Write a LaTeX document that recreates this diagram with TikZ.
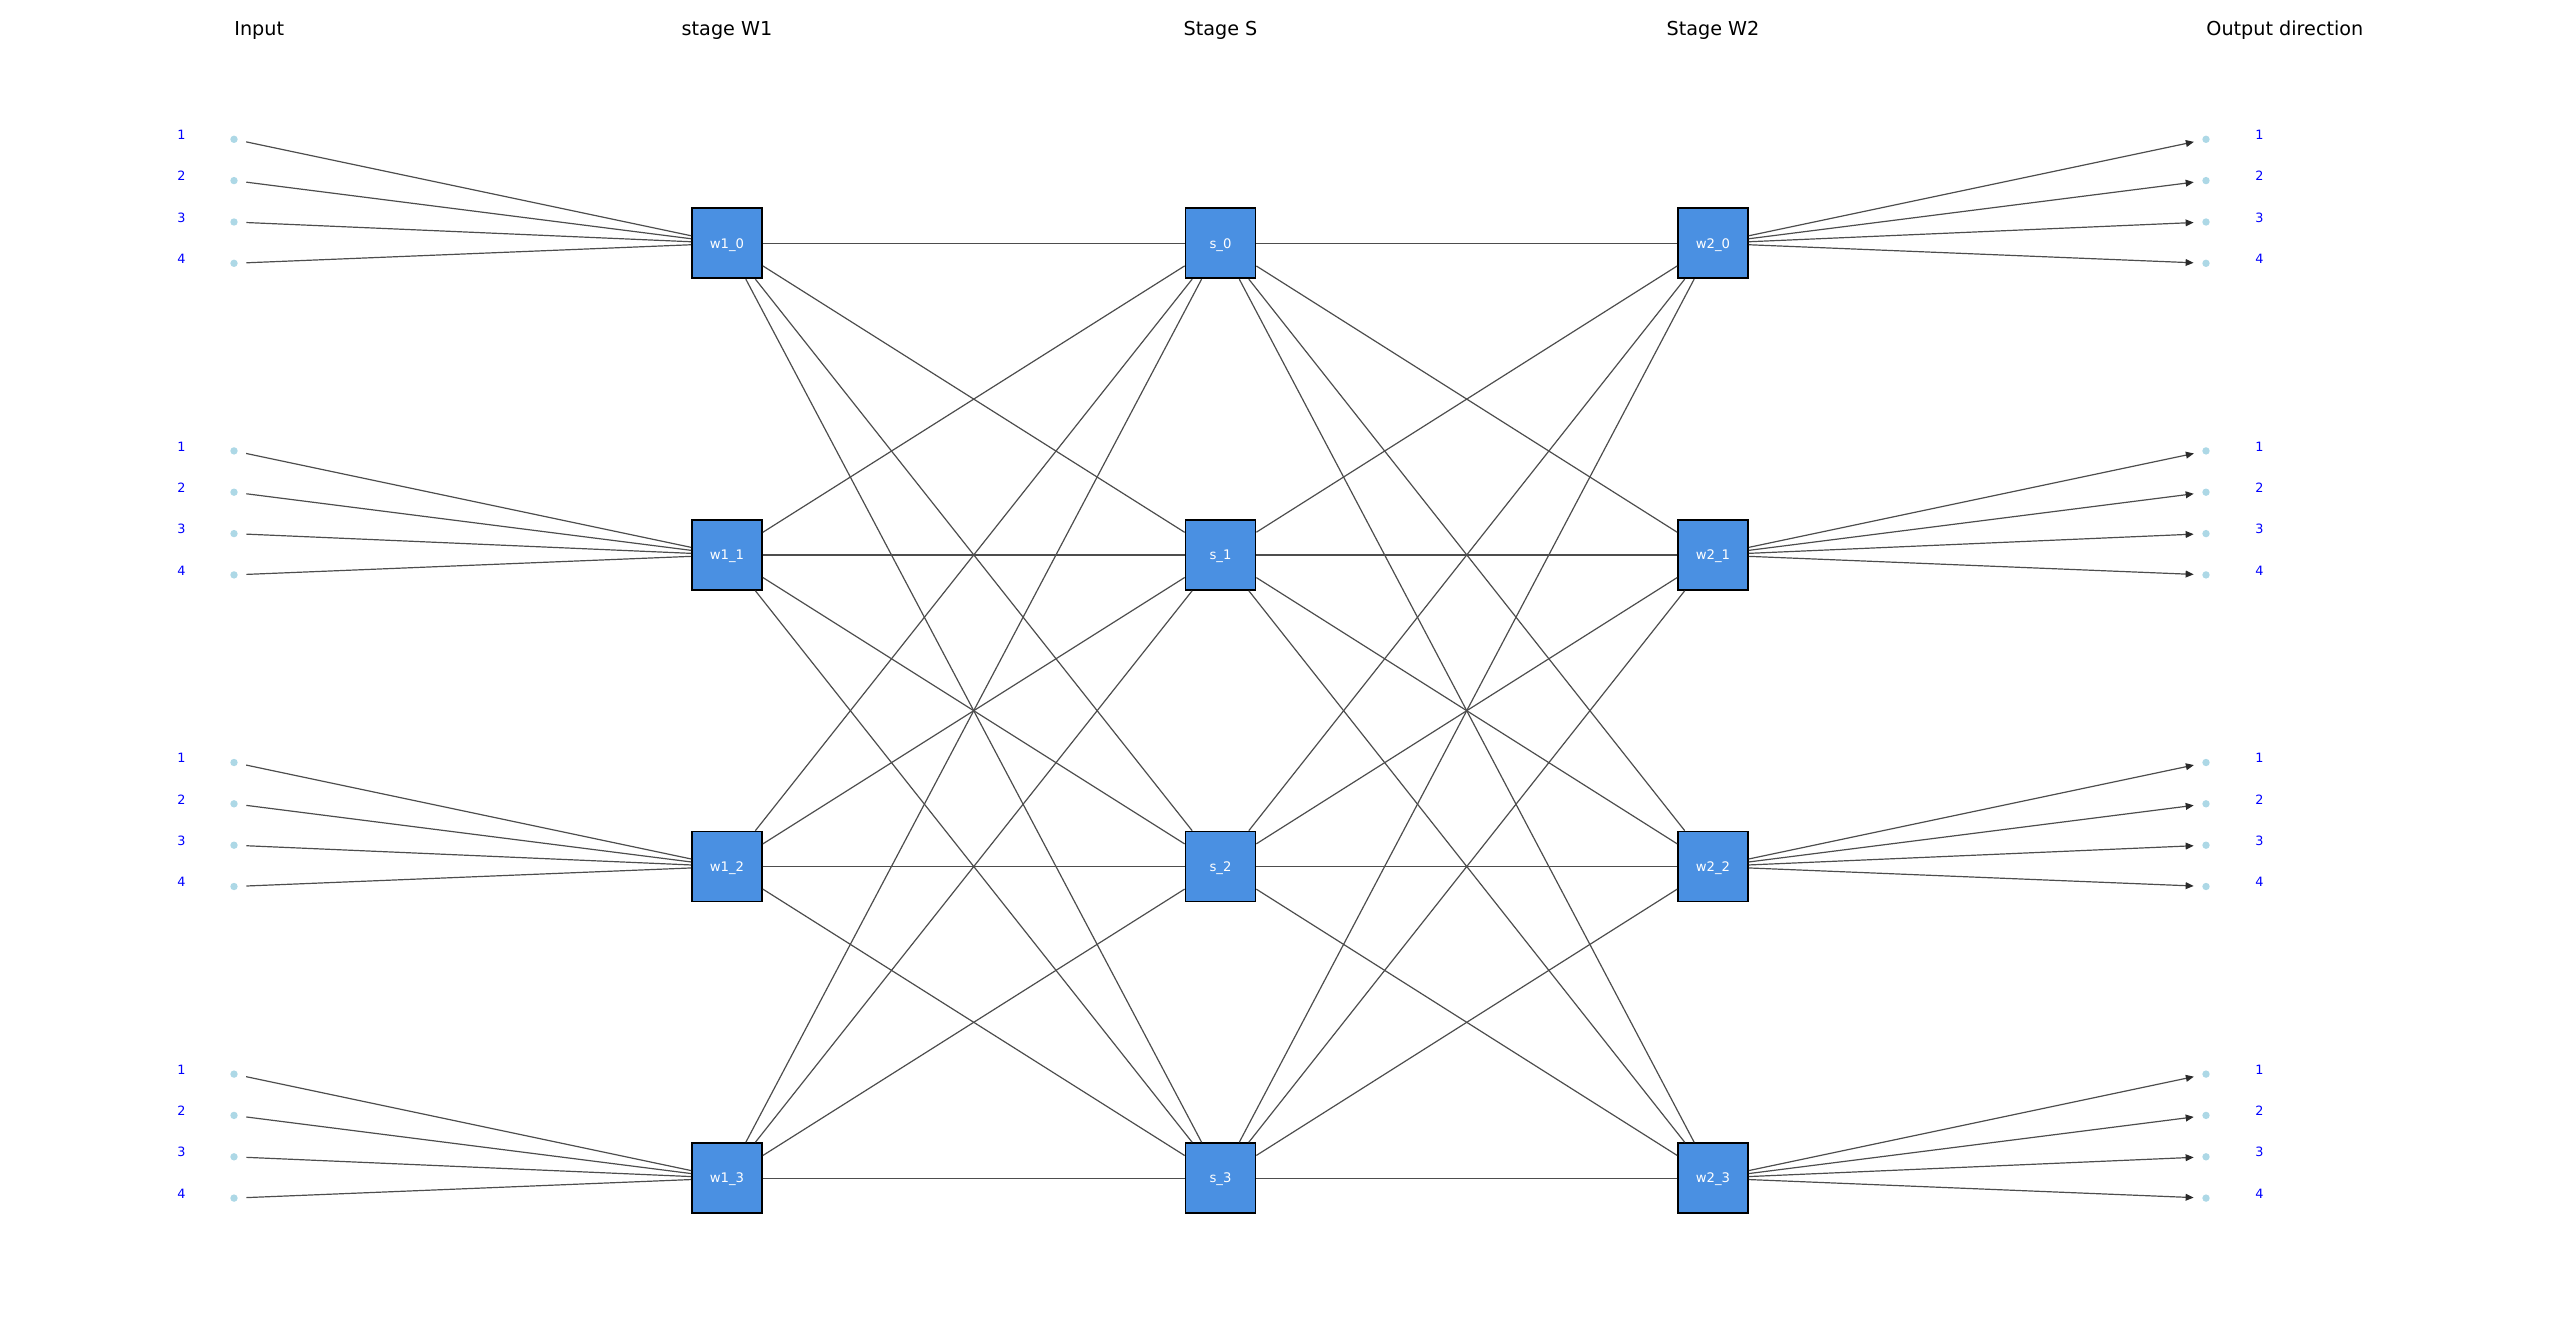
\documentclass[tikz,border=0pt]{standalone}
\usepackage{fontspec}
\setmainfont{DejaVu Sans}
\usetikzlibrary{arrows.meta}
\definecolor{boxc}{HTML}{4A90E2}
\definecolor{edgec}{HTML}{4D4D4D}
\definecolor{tipc}{HTML}{2A2A2A}
\definecolor{dotc}{HTML}{ADD8E6}
\definecolor{numc}{HTML}{0000FF}
\begin{document}
\begin{tikzpicture}[x=0.5pt,y=-0.5pt,
  stagebox/.style={draw=black,line width=0.85pt,fill=boxc,minimum size=35pt,inner sep=0pt,
    text=white,font=\fontsize{6.6pt}{8pt}\selectfont,text height=4.8pt,text depth=0pt},
  dotnode/.style={circle,minimum size=12pt,inner sep=0pt},
  numlabel/.style={text=numc,font=\fontsize{6.4pt}{8pt}\selectfont,inner sep=0pt},
  titletext/.style={font=\fontsize{9.6pt}{11pt}\selectfont,inner sep=0pt,anchor=base},
  edge/.style={draw=edgec,line width=0.6pt},
  outarrow/.style={edge,-{Triangle[length=4pt,width=3.4pt,color=tipc]}}]
\useasboundingbox (0,0) rectangle (2560,1327);
% titles
\node[titletext,anchor=base west] (t-in) at (234,36) {Input};
\node[titletext] (t-w1) at (727,36) {stage W1};
\node[titletext] (t-s) at (1220.5,36) {Stage S};
\node[titletext] (t-w2) at (1713,36) {Stage W2};
\node[titletext,anchor=base west] (t-out) at (2206,36) {Output direction};
% nodes
\foreach \g in {0,...,3} {
  \pgfmathsetmacro\by{243.3+311.6*\g}
  \node[stagebox] (w1-\g) at (727,\by) {w1\_\g};
  \node[stagebox] (s-\g) at (1220.5,\by) {s\_\g};
  \node[stagebox] (w2-\g) at (1713,\by) {w2\_\g};
  \foreach \k/\off in {1/-104,2/-62.7,3/-21.3,4/20} {
    \pgfmathsetmacro\dy{\by+\off}
    \pgfmathsetmacro\ly{\dy-4.5}
    \node[dotnode] (in-\g-\k) at (234,\dy) {};
    \node[dotnode] (out-\g-\k) at (2206,\dy) {};
    \fill[dotc] (in-\g-\k.center) circle (1.85pt);
    \fill[dotc] (out-\g-\k.center) circle (1.85pt);
    \node[numlabel] (inl-\g-\k) at (181.5,\ly) {\k};
    \node[numlabel] (outl-\g-\k) at (2259.5,\ly) {\k};
  }
}
% connectors
\foreach \g in {0,...,3} {
  \foreach \k in {1,...,4} {
    \draw[edge] (in-\g-\k) -- (w1-\g);
    \draw[outarrow] (w2-\g) -- (out-\g-\k);
  }
  \foreach \h in {0,...,3} {
    \draw[edge] (w1-\g) -- (s-\h);
    \draw[edge] (s-\g) -- (w2-\h);
  }
}
\end{tikzpicture}
\end{document}
